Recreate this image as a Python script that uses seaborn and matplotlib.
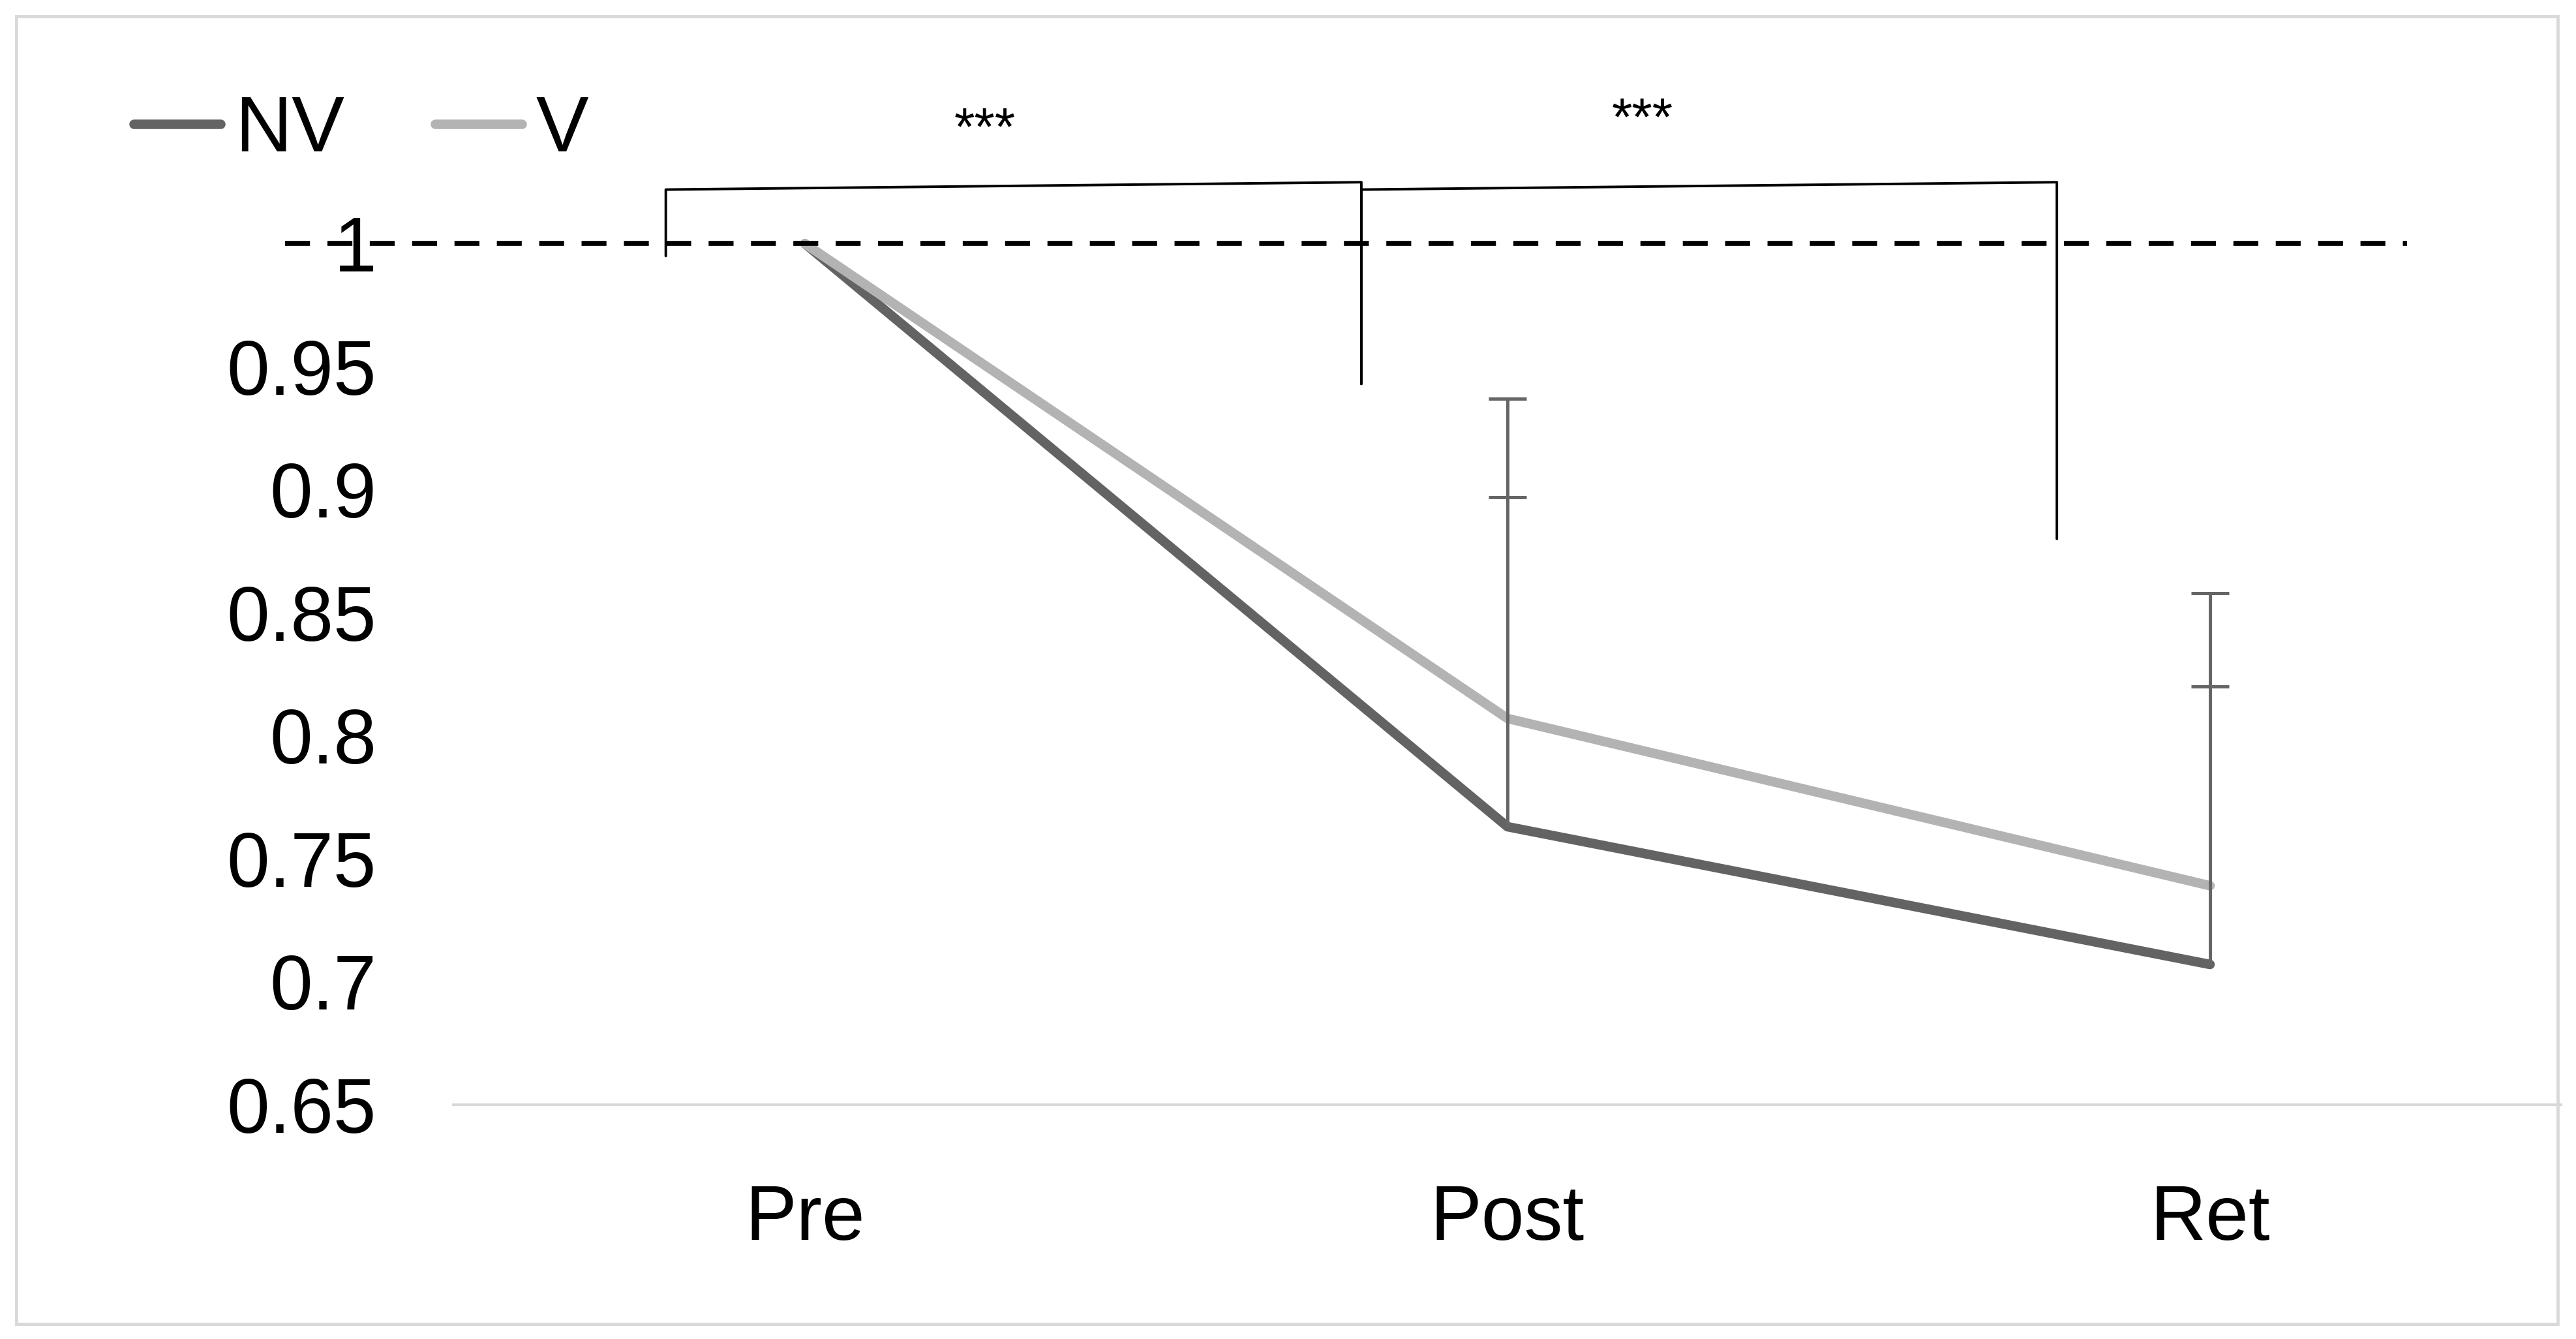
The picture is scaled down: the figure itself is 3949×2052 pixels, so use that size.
import numpy as np
import pandas as pd
import seaborn as sns
import matplotlib.pyplot as plt
from matplotlib.patches import Rectangle

# data
phases = ["Pre", "Post", "Ret"]
nv_values = [1.0, 0.763, 0.707]
v_values = [1.0, 0.807, 0.739]
nv_err = [0.0, 0.174, 0.151]
v_err = [0.0, 0.090, 0.081]
y_ticks = [0.65, 0.7, 0.75, 0.8, 0.85, 0.9, 0.95, 1.0]

# significance brackets: (left x, right x, left-leg bottom, right-leg bottom, top-left, top-right)
brackets = [
    (-0.198, 0.792, 0.995, 0.943, 1.022, 1.025),
    (0.792, 1.782, 0.943, 0.880, 1.022, 1.025),
]
stars = [(0.256, 1.046), (1.192, 1.050)]

sns.set_style("white")
plt.rcParams["font.family"] = ["Liberation Sans", "DejaVu Sans"]
plt.rcParams["text.color"] = "black"

df = pd.DataFrame({
    "x": list(range(len(phases))) * 2,
    "value": nv_values + v_values,
    "group": ["NV"] * len(phases) + ["V"] * len(phases),
})
colors = {"NV": "#636363", "V": "#b3b3b3"}

fig = plt.figure(figsize=(39.49, 20.52), dpi=100)
ax = fig.add_axes([0.1761, 0.175, 0.8182, 0.7716])

sns.lineplot(data=df, x="x", y="value", hue="group", palette=colors,
             linewidth=10.5, sort=False, ax=ax)

# upper-only error bars, cap only at the top
xs = np.arange(len(phases))
for vals, errs in [(nv_values, nv_err), (v_values, v_err)]:
    vals = np.array(vals)
    errs = np.array(errs)
    m = errs > 0
    ax.vlines(xs[m], vals[m], vals[m] + errs[m], color="#666666", lw=3.6, zorder=5)
    ax.plot(xs[m], vals[m] + errs[m], ls="none", marker="_", ms=42, mew=3.6,
            color="#666666", zorder=5)

# dashed reference line at 1
ax.plot([-0.74, 2.28], [1, 1], color="black", lw=5.5, dashes=(5, 3.5),
        clip_on=False, zorder=4)

for x0, x1, b0, b1, t0, t1 in brackets:
    ax.plot([x0, x0, x1, x1], [b0, t0, t1, b1], color="black", lw=2.8,
            clip_on=False, zorder=6)
for sx, sy in stars:
    ax.text(sx, sy, "***", ha="center", va="center", fontsize=58, color="black")

ax.set_xlim(-0.5, 2.5)
ax.set_ylim(0.65, 1.07)
ax.set_xticks(xs, labels=phases)
ax.set_yticks(y_ticks, labels=[f"{t:g}" for t in y_ticks])
ax.tick_params(axis="both", length=0, labelsize=85, labelcolor="black")
ax.tick_params(axis="y", pad=85)
ax.tick_params(axis="x", pad=87)
ax.set_xlabel("")
ax.set_ylabel("")
for s in ["top", "right", "left"]:
    ax.spines[s].set_visible(False)
ax.spines["bottom"].set_color("#d9d9d9")
ax.spines["bottom"].set_linewidth(3)

handles, labels = ax.get_legend_handles_labels()
ax.get_legend().remove()
for h in handles:
    h.set_solid_capstyle("round")
    h.set_linewidth(10.5)
leg = fig.legend(handles, labels, loc="center left", bbox_to_anchor=(0.052, 0.902),
                 ncol=2, frameon=False, fontsize=87, handlelength=1.1,
                 handletextpad=0.18, columnspacing=1.15, borderpad=0, borderaxespad=0)
for t in leg.get_texts():
    t.set_color("black")

fig.patches.append(Rectangle((0.0063, 0.011), 0.9867, 0.977, transform=fig.transFigure,
                             fill=False, edgecolor="#d9d9d9", lw=3.5))

fig.savefig("out.png", dpi=100)
